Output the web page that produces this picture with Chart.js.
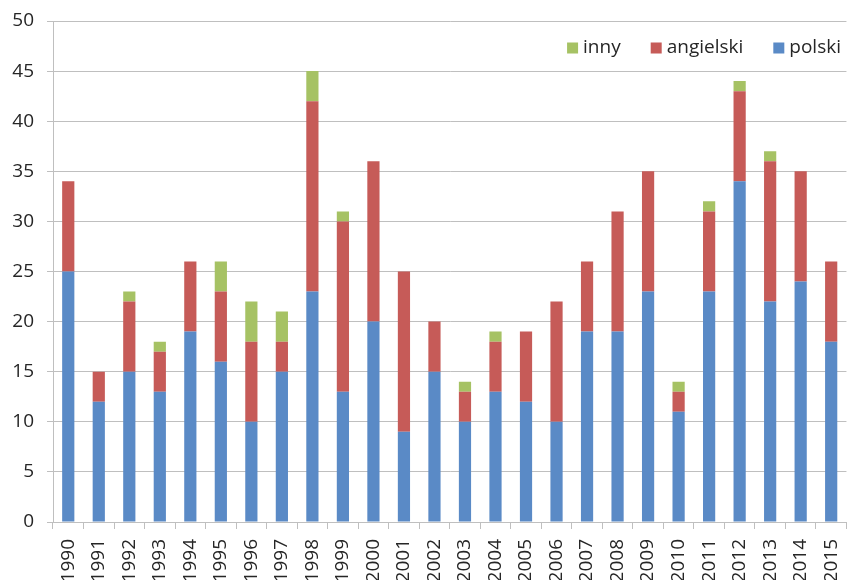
<!DOCTYPE html>
<html>
<head>
<meta charset="utf-8">
<script src="https://cdn.jsdelivr.net/npm/chart.js@4"></script>
<style>
  html, body { margin: 0; padding: 0; background: #fff; overflow: hidden; }
  #wrap { width: 864px; height: 580px; position: relative; }
</style>
</head>
<body>
<div id="wrap"><canvas id="c"></canvas></div>
<script>
const categories = ['1990','1991','1992','1993','1994','1995','1996','1997','1998','1999','2000','2001','2002','2003','2004','2005','2006','2007','2008','2009','2010','2011','2012','2013','2014','2015'];
const polski    = [25,12,15,13,19,16,10,15,23,13,20, 9,15,10,13,12,10,19,19,23,11,23,34,22,24,18];
const angielski = [ 9, 3, 7, 4, 7, 7, 8, 3,19,17,16,16, 5, 3, 5, 7,12, 7,12,12, 2, 8, 9,14,11, 8];
const inny      = [ 0, 0, 1, 1, 0, 3, 4, 3, 3, 1, 0, 0, 0, 1, 1, 0, 0, 0, 0, 0, 1, 1, 1, 1, 0, 0];
const yMin = 0, yMax = 50, yStep = 5;

const FONT = "'Open Sans', 'Liberation Sans', sans-serif";
const TXT = '#262626';
const GRID = '#BFBFBF';

const legendPlugin = {
  id: 'insideLegend',
  afterDraw(chart) {
    const ctx = chart.ctx;
    const ds = chart.data.datasets.slice().reverse();
    ctx.save();
    ctx.font = '19px ' + FONT;
    ctx.textBaseline = 'middle';
    const box = 11, gapBox = 5, gapItem = 30;
    const yc = 48;
    let total = 0;
    ds.forEach((d, i) => { total += box + gapBox + ctx.measureText(d.label).width + (i < ds.length - 1 ? gapItem : 0); });
    let x = 841 - total;
    ds.forEach(d => {
      ctx.fillStyle = d.backgroundColor;
      ctx.fillRect(x, yc - box / 2, box, box);
      x += box + gapBox;
      ctx.fillStyle = TXT;
      ctx.fillText(d.label, x, yc);
      x += ctx.measureText(d.label).width + gapItem;
    });
    ctx.restore();
  }
};

new Chart(document.getElementById('c'), {
  type: 'bar',
  data: {
    labels: categories,
    datasets: [
      { label: 'polski', data: polski, backgroundColor: '#5A8AC6' },
      { label: 'angielski', data: angielski, backgroundColor: '#C65B58' },
      { label: 'inny', data: inny, backgroundColor: '#A6C264' }
    ]
  },
  options: {
    responsive: true,
    maintainAspectRatio: false,
    animation: false,
    layout: { padding: { top: 21, left: 0, right: 1, bottom: 0 } },
    datasets: { bar: { barPercentage: 0.4, categoryPercentage: 1.0 } },
    plugins: { legend: { display: false }, tooltip: { enabled: false } },
    scales: {
      x: {
        stacked: true,
        grid: { display: true, drawOnChartArea: false, drawTicks: true, tickLength: 7, color: GRID, offset: true },
        border: { display: true, color: GRID },
        ticks: { color: TXT, font: { family: FONT, size: 19 }, minRotation: 90, maxRotation: 90, padding: 10, autoSkip: false },
        afterFit(s) { s.height = 58; }
      },
      y: {
        stacked: true,
        min: yMin, max: yMax,
        grid: { color: GRID, tickLength: 6, drawTicks: true },
        border: { display: true, color: GRID },
        ticks: { stepSize: yStep, color: TXT, font: { family: FONT, size: 19 }, padding: 13 },
        afterFit(s) { s.width = 53; s.paddingTop = 0; s.paddingBottom = 0; }
      }
    }
  },
  plugins: [legendPlugin]
});
</script>
</body>
</html>
